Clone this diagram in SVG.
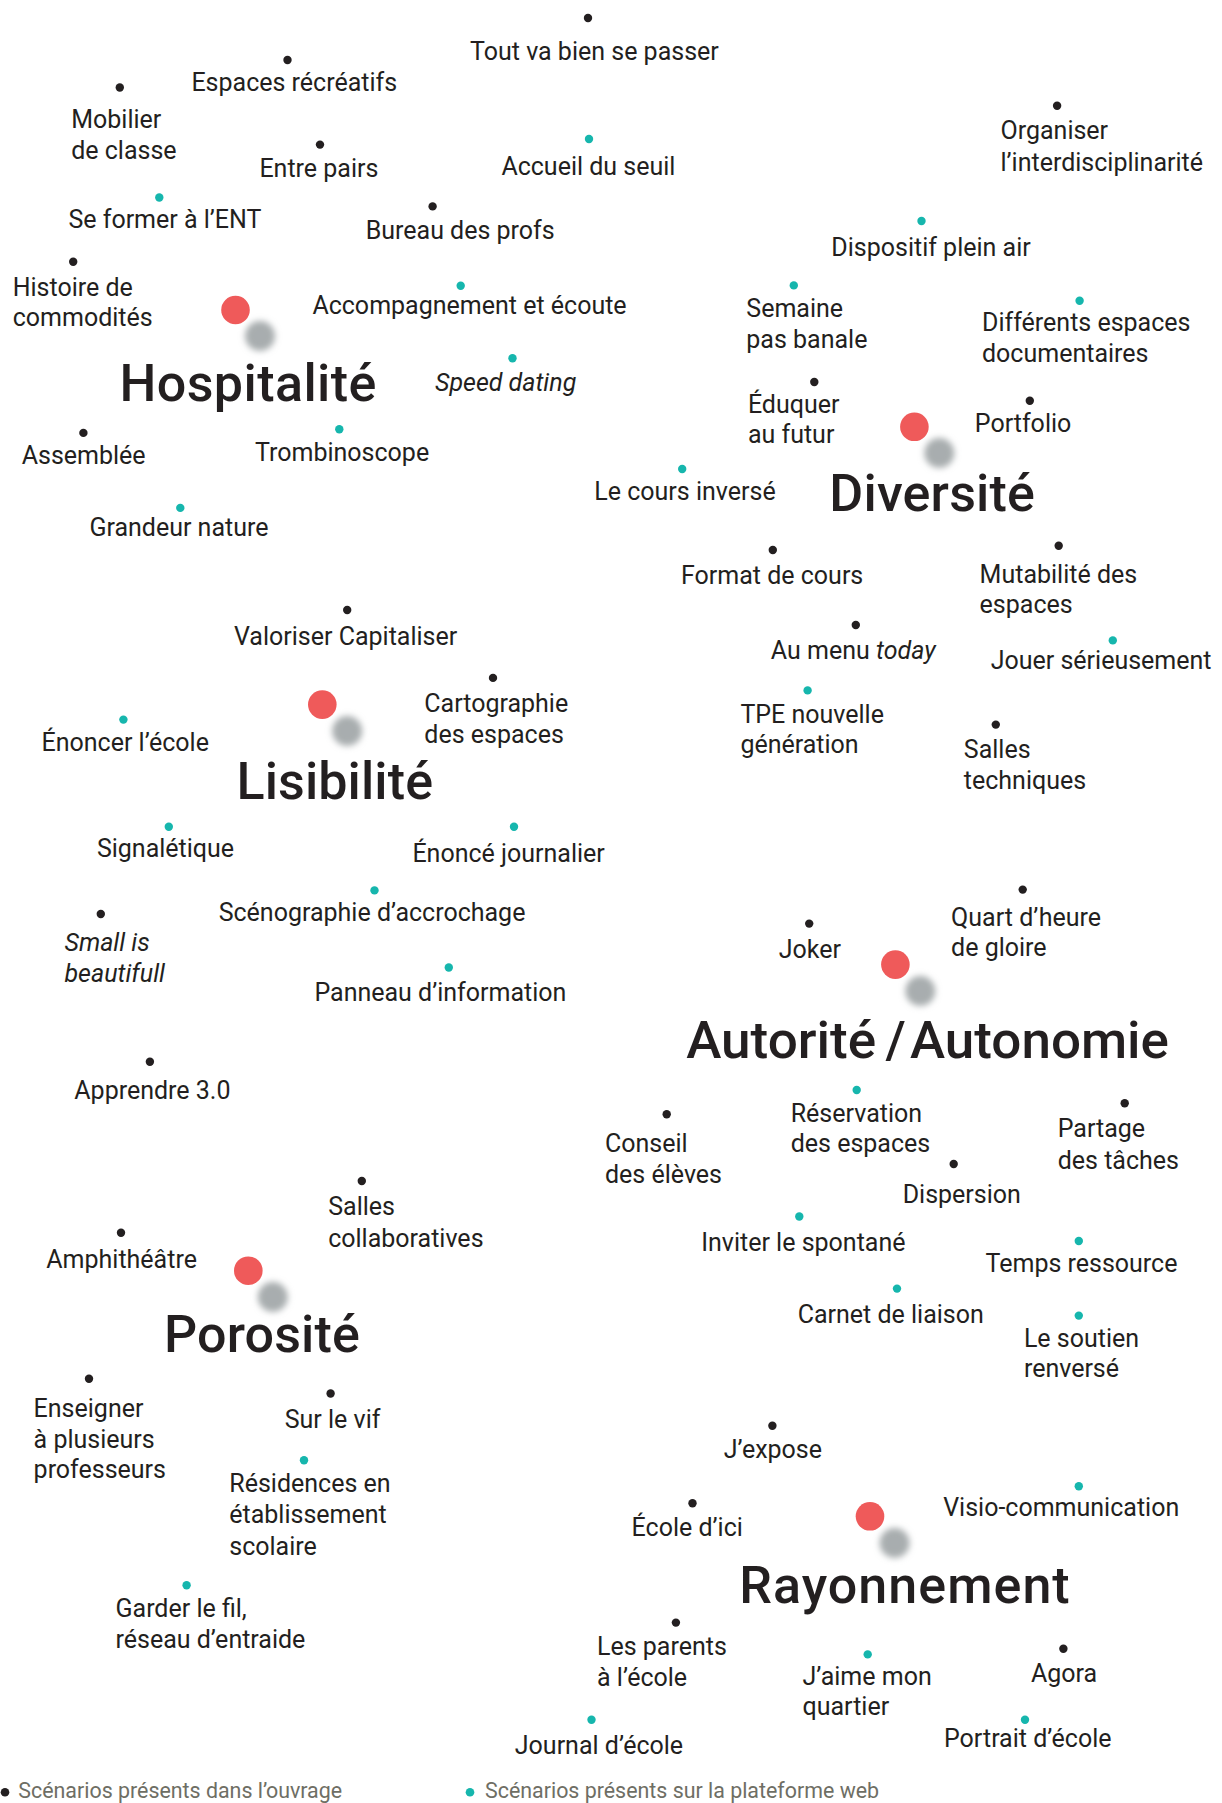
<svg xmlns="http://www.w3.org/2000/svg" width="1222" height="1803" viewBox="0 0 1222 1803">
<style>
text{font-family:Roboto,"Liberation Sans",sans-serif;fill:#231f20;font-size:25px}
.it{font-style:italic}
.ttl{font-size:52px;font-weight:500}
.k{fill:#231f20}
.t{fill:#16b6ad}
.red{fill:#ef5a5a}
.sh{fill:#a8adaf;filter:url(#bl)}
.leg{font-size:21.4px;fill:#6e6e64}
</style>
<defs>
<filter id="bl" x="-50%" y="-50%" width="200%" height="200%"><feGaussianBlur stdDeviation="3"/></filter>
</defs>
<rect width="1222" height="1803" fill="#fff"/>
<g id="connectors"/>

<!-- Hospitalité -->
<g id="hospitalite">
<circle class="sh" cx="260" cy="336" r="15"/><circle class="red" cx="235.5" cy="310" r="14.3"/>
<text class="ttl" x="119.4" y="400.7" textLength="257">Hospitalité</text>
</g>
<g id="n-tout"><circle class="k" cx="588" cy="18" r="4.2"/><text x="470" y="59.5">Tout va bien se passer</text></g>
<g id="n-espaces-recreatifs"><circle class="k" cx="287.5" cy="60" r="4.2"/><text x="191.4" y="91">Espaces récréatifs</text></g>
<g id="n-mobilier"><circle class="k" cx="119.8" cy="87.5" r="4.2"/><text x="71.2" y="128">Mobilier</text><text x="71.2" y="159">de classe</text></g>
<g id="n-entre-pairs"><circle class="k" cx="320" cy="144.6" r="4.2"/><text x="259.4" y="176.8">Entre pairs</text></g>
<g id="n-accueil"><circle class="t" cx="589" cy="139" r="4.2"/><text x="501.4" y="175">Accueil du seuil</text></g>
<g id="n-se-former"><circle class="t" cx="159.3" cy="197.5" r="4.2"/><text x="68.4" y="227.5">Se former à l’ENT</text></g>
<g id="n-bureau"><circle class="k" cx="432.6" cy="206.4" r="4.2"/><text x="365.7" y="238.6">Bureau des profs</text></g>
<g id="n-histoire"><circle class="k" cx="73.2" cy="261.8" r="4.2"/><text x="12.7" y="295.7">Histoire de</text><text x="12.7" y="326.4">commodités</text></g>
<g id="n-accompagnement"><circle class="t" cx="460.7" cy="285.7" r="4.2"/><text x="312.4" y="313.6">Accompagnement et écoute</text></g>
<g id="n-speed"><circle class="t" cx="512.5" cy="358.2" r="4.2"/><text class="it" x="435" y="391">Speed dating</text></g>
<g id="n-assemblee"><circle class="k" cx="83.4" cy="432.9" r="4.2"/><text x="21.7" y="464.3">Assemblée</text></g>
<g id="n-trombinoscope"><circle class="t" cx="339.3" cy="429.3" r="4.2"/><text x="255" y="460.7">Trombinoscope</text></g>
<g id="n-grandeur"><circle class="t" cx="180.3" cy="507.9" r="4.2"/><text x="89.4" y="535.7">Grandeur nature</text></g>

<!-- Diversité -->
<g id="diversite">
<circle class="sh" cx="939.3" cy="453" r="15"/><circle class="red" cx="914.4" cy="426.8" r="14.3"/>
<text class="ttl" x="829.3" y="510.7" textLength="205.6">Diversité</text>
</g>
<g id="n-organiser"><circle class="k" cx="1057.1" cy="105.7" r="4.2"/><text x="1000.5" y="139.3">Organiser</text><text x="1000.5" y="170.7">l’interdisciplinarité</text></g>
<g id="n-dispositif"><circle class="t" cx="921.5" cy="221" r="4.2"/><text x="831.3" y="256.4">Dispositif plein air</text></g>
<g id="n-semaine"><circle class="t" cx="793.8" cy="285.4" r="4.2"/><text x="746.3" y="317">Semaine</text><text x="746.3" y="348">pas banale</text></g>
<g id="n-differents"><circle class="t" cx="1079.6" cy="300.7" r="4.2"/><text x="982" y="331.4">Différents espaces</text><text x="982" y="361.8">documentaires</text></g>
<g id="n-eduquer"><circle class="k" cx="814.3" cy="382" r="4.2"/><text x="747.9" y="412.5">Éduquer</text><text x="747.9" y="442.9">au futur</text></g>
<g id="n-portfolio"><circle class="k" cx="1029.8" cy="400.7" r="4.2"/><text x="974.8" y="432">Portfolio</text></g>
<g id="n-cours-inverse"><circle class="t" cx="682.2" cy="469" r="4.2"/><text x="594.3" y="500">Le cours inversé</text></g>
<g id="n-format"><circle class="k" cx="772.8" cy="550" r="4.2"/><text x="681" y="584.3">Format de cours</text></g>
<g id="n-mutabilite"><circle class="k" cx="1058.7" cy="545.7" r="4.2"/><text x="979.6" y="582.5">Mutabilité des</text><text x="979.6" y="612.9">espaces</text></g>
<g id="n-menu"><circle class="k" cx="855.8" cy="625" r="4.2"/><text x="770.8" y="659">Au menu <tspan class="it">today</tspan></text></g>
<g id="n-jouer"><circle class="t" cx="1112.8" cy="640.4" r="4.2"/><text x="990.7" y="669">Jouer sérieusement</text></g>
<g id="n-tpe"><circle class="t" cx="807.6" cy="690.4" r="4.2"/><text x="740.4" y="722.5">TPE nouvelle</text><text x="740.4" y="752.9">génération</text></g>
<g id="n-salles-tech"><circle class="k" cx="995.8" cy="724.6" r="4.2"/><text x="963.8" y="758.2">Salles</text><text x="963.8" y="788.6">techniques</text></g>

<!-- Lisibilité -->
<g id="lisibilite">
<circle class="sh" cx="347.2" cy="731" r="15"/><circle class="red" cx="322.3" cy="704.6" r="14.3"/>
<text class="ttl" x="236.5" y="798.6" textLength="196.5">Lisibilité</text>
</g>
<g id="n-valoriser"><circle class="k" cx="347.2" cy="610" r="4.2"/><text x="234" y="645">Valoriser Capitaliser</text></g>
<g id="n-cartographie"><circle class="k" cx="493" cy="677.9" r="4.2"/><text x="424.3" y="711.8">Cartographie</text><text x="424.3" y="742.9">des espaces</text></g>
<g id="n-enoncer"><circle class="t" cx="123.4" cy="719.6" r="4.2"/><text x="41.5" y="751">Énoncer l’école</text></g>
<g id="n-signaletique"><circle class="t" cx="168.8" cy="826.8" r="4.2"/><text x="96.9" y="857">Signalétique</text></g>
<g id="n-enonce"><circle class="t" cx="514" cy="826.8" r="4.2"/><text x="412.4" y="861.8">Énoncé journalier</text></g>
<g id="n-scenographie"><circle class="t" cx="374.5" cy="890.4" r="4.2"/><text x="218.7" y="921.4">Scénographie d’accrochage</text></g>
<g id="n-small"><circle class="k" cx="100.8" cy="914" r="4.2"/><text class="it" x="64.5" y="951">Small is</text><text class="it" x="64.5" y="982">beautifull</text></g>
<g id="n-panneau"><circle class="t" cx="448.8" cy="967.5" r="4.2"/><text x="314.4" y="1001">Panneau d’information</text></g>
<g id="n-apprendre"><circle class="k" cx="149.9" cy="1061.8" r="4.2"/><text x="74.3" y="1099.3">Apprendre 3.0</text></g>

<!-- Autorité / Autonomie -->
<g id="autorite">
<circle class="sh" cx="920.3" cy="991" r="15"/><circle class="red" cx="895.4" cy="964.6" r="14.3"/>
<text class="ttl" y="1058.2"><tspan x="686.2" textLength="190" lengthAdjust="spacingAndGlyphs">Autorité</tspan><tspan x="885.5">/</tspan><tspan x="910" textLength="259" lengthAdjust="spacingAndGlyphs">Autonomie</tspan></text>
</g>
<g id="n-quart"><circle class="k" cx="1022.7" cy="889.6" r="4.2"/><text x="951.1" y="926">Quart d’heure</text><text x="951.1" y="956.4">de gloire</text></g>
<g id="n-joker"><circle class="k" cx="809.2" cy="923.6" r="4.2"/><text x="778.7" y="958.2">Joker</text></g>
<g id="n-reservation"><circle class="t" cx="856.7" cy="1090" r="4.2"/><text x="790.7" y="1121.7">Réservation</text><text x="790.7" y="1151.7">des espaces</text></g>
<g id="n-conseil"><circle class="k" cx="666.7" cy="1114.3" r="4.2"/><text x="605" y="1151.7">Conseil</text><text x="605" y="1182.7">des élèves</text></g>
<g id="n-partage"><circle class="k" cx="1124.7" cy="1103.3" r="4.2"/><text x="1057.7" y="1137.3">Partage</text><text x="1057.7" y="1169.3">des tâches</text></g>
<g id="n-dispersion"><circle class="k" cx="953.7" cy="1164" r="4.2"/><text x="902.7" y="1202.7">Dispersion</text></g>
<g id="n-inviter"><circle class="t" cx="799.3" cy="1216.5" r="4.2"/><text x="701.2" y="1250.7">Inviter le spontané</text></g>
<g id="n-temps"><circle class="t" cx="1078.8" cy="1241" r="4.2"/><text x="985.5" y="1272.4">Temps ressource</text></g>
<g id="n-carnet"><circle class="t" cx="897" cy="1288.6" r="4.2"/><text x="797.7" y="1322.5">Carnet de liaison</text></g>
<g id="n-soutien"><circle class="t" cx="1078.8" cy="1315.6" r="4.2"/><text x="1023.9" y="1346.5">Le soutien</text><text x="1023.9" y="1377">renversé</text></g>

<!-- Porosité -->
<g id="porosite">
<circle class="sh" cx="272.8" cy="1297" r="15"/><circle class="red" cx="248.3" cy="1270.7" r="14.3"/>
<text class="ttl" x="164.1" y="1351.7" textLength="195.7">Porosité</text>
</g>
<g id="n-salles-collab"><circle class="k" cx="361.8" cy="1181" r="4.2"/><text x="328.2" y="1214.9">Salles</text><text x="328.2" y="1247.2">collaboratives</text></g>
<g id="n-amphi"><circle class="k" cx="121" cy="1232.8" r="4.2"/><text x="46.3" y="1268">Amphithéâtre</text></g>
<g id="n-enseigner"><circle class="k" cx="89" cy="1378.7" r="4.2"/><text x="33.6" y="1417">Enseigner</text><text x="33.6" y="1447.5">à plusieurs</text><text x="33.6" y="1478">professeurs</text></g>
<g id="n-sur-le-vif"><circle class="k" cx="330.6" cy="1393.5" r="4.2"/><text x="284.7" y="1427.9">Sur le vif</text></g>
<g id="n-residences"><circle class="t" cx="304" cy="1460.2" r="4.2"/><text x="229.3" y="1492.4">Résidences en</text><text x="229.3" y="1522.9">établissement</text><text x="229.3" y="1554.7">scolaire</text></g>
<g id="n-garder"><circle class="t" cx="186.6" cy="1585.2" r="4.2"/><text x="115.5" y="1616.5">Garder le fil,</text><text x="115.5" y="1647.9">réseau d’entraide</text></g>

<!-- Rayonnement -->
<g id="rayonnement">
<circle class="sh" cx="894.6" cy="1543" r="15"/><circle class="red" cx="870" cy="1516.3" r="14.3"/>
<text class="ttl" x="739.2" y="1602.6" textLength="330.5">Rayonnement</text>
</g>
<g id="n-jexpose"><circle class="k" cx="772.4" cy="1425.7" r="4.2"/><text x="723.8" y="1457.5">J’expose</text></g>
<g id="n-visio"><circle class="t" cx="1078.8" cy="1486.3" r="4.2"/><text x="943.2" y="1515.5">Visio-communication</text></g>
<g id="n-ecole-ici"><circle class="k" cx="692.5" cy="1503.3" r="4.2"/><text x="631.6" y="1536">École d’ici</text></g>
<g id="n-parents"><circle class="k" cx="675.9" cy="1622.6" r="4.2"/><text x="597" y="1654.8">Les parents</text><text x="597" y="1686.2">à l’école</text></g>
<g id="n-jaime"><circle class="t" cx="867.7" cy="1654.4" r="4.2"/><text x="802.5" y="1684.9">J’aime mon</text><text x="802.5" y="1715.4">quartier</text></g>
<g id="n-agora"><circle class="k" cx="1063.4" cy="1648.7" r="4.2"/><text x="1031" y="1681.8">Agora</text></g>
<g id="n-portrait"><circle class="t" cx="1025" cy="1719.7" r="4.2"/><text x="944" y="1747.2">Portrait d’école</text></g>
<g id="n-journal"><circle class="t" cx="591.5" cy="1719.7" r="4.2"/><text x="514.8" y="1753.7">Journal d’école</text></g>

<!-- Legend -->
<g id="legend">
<circle class="k" cx="5" cy="1792.3" r="4.3"/><text class="leg" x="18.3" y="1798.3">Scénarios présents dans l’ouvrage</text>
<circle class="t" cx="470" cy="1792.3" r="4.3"/><text class="leg" x="485" y="1798.3">Scénarios présents sur la plateforme web</text>
</g>
</svg>
